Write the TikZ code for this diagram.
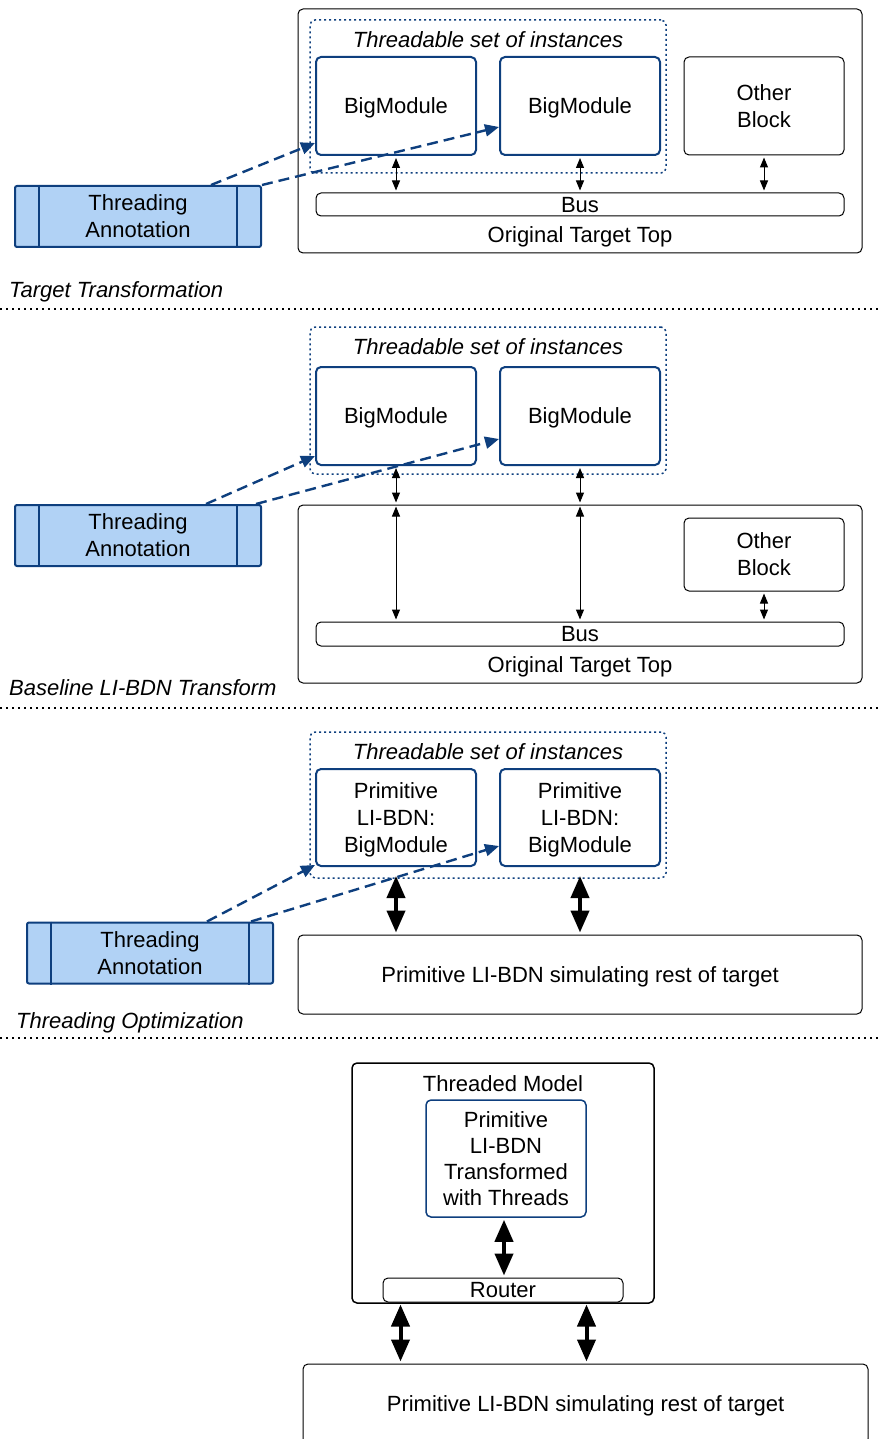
\documentclass[tikz,border=0pt]{standalone}
\usepackage{fontspec}
\setmainfont{Liberation Sans}
\usetikzlibrary{arrows.meta,calc}
\definecolor{navy}{HTML}{0E3F7E}
\definecolor{annofill}{HTML}{B1D2F5}
\newcommand{\txtsize}{\fontsize{22}{27}\selectfont}
\tikzset{
  every node/.style={font=\txtsize, align=center, inner sep=0pt, text depth=0pt},
  modbox/.style={draw=navy, line width=2pt, rounded corners=5pt,
    minimum width=160pt, minimum height=98pt},
  plainbox/.style={draw=black, line width=1pt, rounded corners=5pt},
  busbox/.style={plainbox, minimum width=528pt, minimum height=23pt},
  setbox/.style={draw=navy, line width=1.5pt, dash pattern=on 2pt off 3pt,
    rounded corners=5pt, minimum width=356pt},
  settitle/.style={font=\txtsize\itshape},
  anno/.style={draw=navy, fill=annofill, line width=2pt, rounded corners=2pt,
    minimum width=246pt, minimum height=61pt},
  annobar/.style={draw=navy, line width=2pt},
  dasharr/.style={draw=navy, line width=2.4pt, dash pattern=on 11pt off 6pt,
    -{Triangle[width=12pt,length=14pt]}},
  thinarr/.style={line width=1pt, shorten <=2pt, shorten >=2pt,
    {Triangle[width=8pt,length=10pt]}-{Triangle[width=8pt,length=10pt]}},
  thickarr/.style={line width=4pt, shorten <=2pt, shorten >=2pt,
    {Triangle[width=18pt,length=22pt]}-{Triangle[width=18pt,length=22pt]}},
  sep/.style={line width=1.5pt, dash pattern=on 2pt off 4pt},
  caption/.style={font=\txtsize\itshape, anchor=west},
}
\begin{document}
\begin{tikzpicture}[x=1pt, y=-1pt]
\clip (0,0) rectangle (878,1439);

% ---------- Target Transformation ----------
\node[plainbox, minimum width=564pt, minimum height=244pt] (top1) at (580,131) {};
\node[setbox, minimum height=153pt] (set1) at (488,96.5) {};
\node[settitle] (st1) at (488,40) {Threadable set of instances};
\node[modbox] (bm1a) at (396,106) {BigModule};
\node[modbox] (bm1b) at (580,106) {BigModule};
\node[plainbox, minimum width=160pt, minimum height=98pt] (ob1) at (764,106) {Other\\Block};
\node[busbox] (bus1) at (580,204.5) {Bus};
\node (otl1) at (580,235) {Original Target Top};
\node[anno] (ta1) at (138,216.5) {Threading\\Annotation};
\draw[annobar] ([xshift=25pt]ta1.north west) -- ([xshift=25pt]ta1.south west);
\draw[annobar] ([xshift=-25pt]ta1.north east) -- ([xshift=-25pt]ta1.south east);
\draw[dasharr] ([xshift=197pt]ta1.north west) -- ([yshift=13pt]bm1a.south west);
\draw[dasharr] (ta1.north east) -- ([yshift=29pt]bm1b.south west);
\draw[thinarr] (bm1a.south) -- (bm1a.south |- bus1.north);
\draw[thinarr] (bm1b.south) -- (bm1b.south |- bus1.north);
\draw[thinarr] (ob1.south) -- (ob1.south |- bus1.north);
\node[caption] (cap1) at (9,290) {Target Transformation};
\coordinate (s1l) at (0,309);
\coordinate (s1r) at (878,309);
\draw[sep] (s1l) -- (s1r);

% ---------- Baseline LI-BDN Transform ----------
\node[setbox, minimum height=147pt] (set2) at (488,400.5) {};
\node[settitle] (st2) at (488,347) {Threadable set of instances};
\node[modbox] (bm2a) at (396,416) {BigModule};
\node[modbox] (bm2b) at (580,416) {BigModule};
\node[plainbox, minimum width=564pt, minimum height=178pt] (top2) at (580,594) {};
\node[plainbox, minimum width=160pt, minimum height=73pt] (ob2) at (764,554.5) {Other\\Block};
\node[busbox, minimum height=24pt] (bus2) at (580,634) {Bus};
\node (otl2) at (580,665) {Original Target Top};
\node[anno] (ta2) at (138,535.5) {Threading\\Annotation};
\draw[annobar] ([xshift=25pt]ta2.north west) -- ([xshift=25pt]ta2.south west);
\draw[annobar] ([xshift=-25pt]ta2.north east) -- ([xshift=-25pt]ta2.south east);
\draw[dasharr] ([xshift=192pt]ta2.north west) -- ([yshift=10pt]bm2a.south west);
\draw[dasharr] ([xshift=-6pt]ta2.north east) -- ([yshift=27pt]bm2b.south west);
\draw[thinarr] (bm2a.south) -- (bm2a.south |- top2.north);
\draw[thinarr] (bm2b.south) -- (bm2b.south |- top2.north);
\draw[thinarr] (bm2a.south |- top2.north) -- (bm2a.south |- bus2.north);
\draw[thinarr] (bm2b.south |- top2.north) -- (bm2b.south |- bus2.north);
\draw[thinarr] (ob2.south) -- (ob2.south |- bus2.north);
\node[caption] (cap2) at (9,688) {Baseline LI-BDN Transform};
\coordinate (s2l) at (0,708);
\coordinate (s2r) at (878,708);
\draw[sep] (s2l) -- (s2r);

% ---------- Threading Optimization ----------
\node[setbox, minimum height=146pt] (set3) at (488,805) {};
\node[settitle] (st3) at (488,752) {Threadable set of instances};
\node[modbox, minimum height=97pt] (pm3a) at (396,817.5) {Primitive\\LI-BDN:\\BigModule};
\node[modbox, minimum height=97pt] (pm3b) at (580,817.5) {Primitive\\LI-BDN:\\BigModule};
\node[plainbox, minimum width=564pt, minimum height=79pt] (rest3) at (580,974.5)
  {Primitive LI-BDN simulating rest of target};
\node[anno] (ta3) at (150,953) {Threading\\Annotation};
\draw[annobar] ([xshift=25pt]ta3.north west) -- ([xshift=25pt]ta3.south west);
\draw[annobar] ([xshift=-25pt]ta3.north east) -- ([xshift=-25pt]ta3.south east);
\draw[dasharr] ([xshift=181pt]ta3.north west) -- ([yshift=2pt]pm3a.south west);
\draw[dasharr] ([xshift=-23pt]ta3.north east) -- ([yshift=21pt]pm3b.south west);
\draw[thickarr] ([yshift=-7pt]pm3a.south) -- (pm3a.south |- rest3.north);
\draw[thickarr] ([yshift=-7pt]pm3b.south) -- (pm3b.south |- rest3.north);
\node[caption] (cap3) at (16,1021) {Threading Optimization};
\coordinate (s3l) at (0,1038);
\coordinate (s3r) at (878,1038);
\draw[sep] (s3l) -- (s3r);

% ---------- Threaded model ----------
\node[plainbox, line width=1.5pt, minimum width=302pt, minimum height=240pt] (tm) at (503,1183) {};
\node (tmt) at (503,1084) {Threaded Model};
\node[modbox, line width=1.5pt, minimum height=117pt, font=\fontsize{22}{26}\selectfont]
  (thr) at (506,1158.5) {Primitive\\LI-BDN\\Transformed\\with Threads};
\node[plainbox, minimum width=240pt, minimum height=24pt] (router) at (503,1290) {Router};
\node[plainbox, minimum width=565pt, minimum height=80pt] (rest4) at (585.5,1404)
  {Primitive LI-BDN simulating rest of target};
\draw[thickarr] ([xshift=-2pt]thr.south) -- ([xshift=-2pt]thr.south |- router.north);
\draw[thickarr] ([xshift=18pt]router.south west) -- ([xshift=18pt]router.south west |- rest4.north);
\draw[thickarr] ([xshift=-37pt]router.south east) -- ([xshift=-37pt]router.south east |- rest4.north);
\end{tikzpicture}
\end{document}
